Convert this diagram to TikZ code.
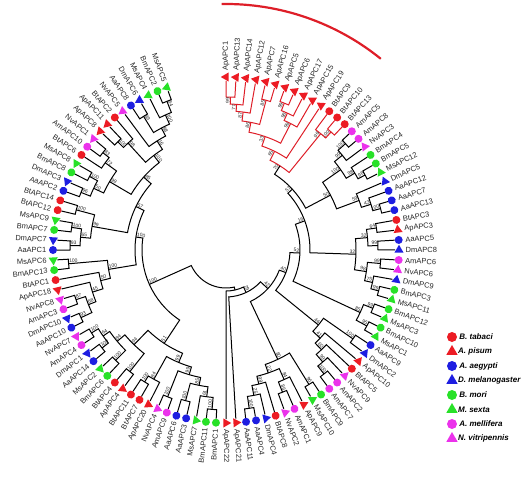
\documentclass[tikz,border=0pt]{standalone}
\usepackage{fontspec}
\setmainfont{Liberation Sans}
\usetikzlibrary{shapes.geometric,positioning}
\definecolor{MkRed}{RGB}{236,28,36}
\definecolor{MkBlue}{RGB}{30,30,225}
\definecolor{MkGreen}{RGB}{40,225,40}
\definecolor{MkPink}{RGB}{235,50,235}
\definecolor{CladeRed}{RGB}{222,30,40}
\tikzset{
  twig/.style={line width=1pt},
  mkdot/.style={circle,inner sep=0pt,minimum size=8pt},
  mktri/.style={regular polygon,regular polygon sides=3,inner sep=0pt,minimum size=10.5pt},
  keydot/.style={circle,inner sep=0pt,minimum size=10pt},
  keytri/.style={regular polygon,regular polygon sides=3,inner sep=0pt,minimum size=13pt},
  leaflabel/.style={font=\fontsize{7.5}{8}\selectfont,inner sep=0.5pt,text=black!85},
  boot/.style={font=\fontsize{5}{5}\selectfont,inner sep=0.6pt,text=black!85},
  keylabel/.style={font=\fontsize{8}{9}\selectfont\bfseries\itshape,inner sep=0pt},
}
\newcommand{\tipr}{169}
\newcommand{\leafstep}{3.3333}
% a tip: index, name, marker, colour
\newcommand{\leaf}[4]{%
  \pgfmathsetmacro\la{90-(#1-1)*\leafstep}%
  \expandafter\xdef\csname ang@#1\endcsname{\la}%
  \expandafter\xdef\csname rad@#1\endcsname{\tipr}%
  \pgfmathsetmacro\lrot{ifthenelse(\la>-90,\la,\la+180)}%
  \pgfmathtruncatemacro\lside{ifthenelse(\la>-90,1,0)}%
  \ifnum\lside=1 \def\lanc{west}\else\def\lanc{east}\fi
  \node[mk#3,fill=#4,rotate=\la] (m#1) at (\la:173pt) {};%
  \node[leaflabel,rotate=\lrot,anchor=\lanc] (l#1) at (\la:179pt) {#2};%
}
% an inner node: colour, name, radius, child, child, bootstrap
\newcommand{\clade}[6][black]{%
  \edef\angA{\csname ang@#4\endcsname}\edef\radA{\csname rad@#4\endcsname}%
  \edef\angB{\csname ang@#5\endcsname}\edef\radB{\csname rad@#5\endcsname}%
  \pgfmathsetmacro\cmid{(\angA+\angB)/2}%
  \draw[twig,#1] (\angA:\radA pt) -- (\angA:#3pt)
    arc[start angle=\angA,end angle=\angB,radius=#3pt] -- (\angB:\radB pt);%
  \expandafter\xdef\csname ang@#2\endcsname{\cmid}%
  \expandafter\xdef\csname rad@#2\endcsname{#3}%
  \pgfmathtruncatemacro\lside{ifthenelse(\cmid>-90,1,0)}%
  \ifnum\lside=1
    \node[boot,rotate=\cmid,anchor=south east] (b#2) at (\cmid:#3pt) {#6};%
  \else
    \pgfmathsetmacro\brot{\cmid+180}%
    \node[boot,rotate=\brot,anchor=south west] (b#2) at (\cmid:#3pt) {#6};%
  \fi
}

\begin{document}
\begin{tikzpicture}
  \useasboundingbox (-226pt,-229pt) rectangle (298pt,250pt);
  % tips, clockwise from the top
  \foreach \t/\s/\c [count=\i] in {
    ApAPC1/tri/MkRed, ApAPC13/tri/MkRed, ApAPC14/tri/MkRed, ApAPC12/tri/MkRed,
    ApAPC7/tri/MkRed, ApAPC16/tri/MkRed, ApAPC5/tri/MkRed, ApAPC6/tri/MkRed,
    ApAPC17/tri/MkRed, ApAPC15/tri/MkRed, ApAPC19/tri/MkRed, BtAPC9/dot/MkRed,
    BtAPC10/dot/MkRed, BtAPC13/dot/MkRed, AmAPC5/dot/MkPink, AmAPC8/dot/MkPink,
    NvAPC3/tri/MkPink, BmAPC4/dot/MkGreen, BmAPC5/dot/MkGreen, MsAPC12/tri/MkGreen,
    DmAPC5/tri/MkBlue, AaAPC12/dot/MkBlue, AaAPC7/dot/MkBlue, AaAPC13/dot/MkBlue,
    BtAPC3/dot/MkRed, ApAPC3/tri/MkRed, AaAPC5/dot/MkBlue, DmAPC8/tri/MkBlue,
    AmAPC6/dot/MkPink, NvAPC6/tri/MkPink, DmAPC9/tri/MkBlue, BmAPC3/dot/MkGreen,
    MsAPC11/tri/MkGreen, BmAPC12/dot/MkGreen, MsAPC3/tri/MkGreen, BmAPC10/dot/MkGreen,
    MsAPC1/tri/MkGreen, AaAPC9/dot/MkBlue, DmAPC2/tri/MkBlue, ApAPC10/tri/MkRed,
    BtAPC5/dot/MkRed, NvAPC9/tri/MkPink, AmAPC2/dot/MkPink, AmAPC7/dot/MkPink,
    BmAPC9/dot/MkGreen, MsAPC10/tri/MkGreen, ApAPC9/tri/MkRed, AmAPC1/dot/MkPink,
    NvAPC2/tri/MkPink, BtAPC8/dot/MkRed, DmAPC4/tri/MkBlue, AaAPC4/dot/MkBlue,
    AaAPC11/dot/MkBlue, ApAPC21/tri/MkRed, ApAPC22/tri/MkRed, BmAPC1/dot/MkGreen,
    BmAPC11/dot/MkGreen, MsAPC7/tri/MkGreen, AaAPC3/dot/MkBlue, AaAPC6/dot/MkBlue,
    AmAPC9/dot/MkPink, NvAPC4/tri/MkPink, ApAPC20/tri/MkRed, BtAPC7/dot/MkRed,
    BtAPC11/dot/MkRed, ApAPC4/tri/MkRed, BtAPC4/dot/MkRed, BmAPC6/dot/MkGreen,
    MsAPC2/tri/MkGreen, AaAPC14/dot/MkBlue, DmAPC1/tri/MkBlue, AmAPC4/dot/MkPink,
    NvAPC7/tri/MkPink, AaAPC10/dot/MkBlue, DmAPC10/tri/MkBlue, AmAPC3/dot/MkPink,
    NvAPC8/tri/MkPink, ApAPC18/tri/MkRed, BtAPC1/dot/MkRed, BmAPC13/dot/MkGreen,
    MsAPC6/tri/MkGreen, AaAPC1/dot/MkBlue, DmAPC7/tri/MkBlue, BmAPC7/dot/MkGreen,
    MsAPC9/tri/MkGreen, BtAPC12/dot/MkRed, BtAPC14/dot/MkRed, AaAPC2/dot/MkBlue,
    DmAPC3/tri/MkBlue, BmAPC8/dot/MkGreen, MsAPC8/tri/MkGreen, BtAPC6/dot/MkRed,
    AmAPC10/dot/MkPink, NvAPC1/tri/MkPink, ApAPC8/tri/MkRed, ApAPC11/tri/MkRed,
    BtAPC2/dot/MkRed, NvAPC5/tri/MkPink, AaAPC8/dot/MkBlue, DmAPC6/tri/MkBlue,
    MsAPC4/tri/MkGreen, BmAPC2/dot/MkGreen, MsAPC5/tri/MkGreen}
    {\leaf{\i}{\t}{\s}{\c}}

  % red clade
  \clade[CladeRed]{n1}{153}{1}{2}{99}
  \clade[CladeRed]{n2}{146}{n1}{3}{77}
  \clade[CladeRed]{n3}{139}{n2}{4}{87}
  \clade[CladeRed]{n4}{155}{5}{6}{85}
  \clade[CladeRed]{n5}{130}{n3}{n4}{86}
  \clade[CladeRed]{n6}{158}{7}{8}{99}
  \clade[CladeRed]{n7}{150}{n6}{9}{98}
  \clade[CladeRed]{n8}{142}{n7}{10}{99}
  \clade[CladeRed]{n9}{120}{n5}{n8}{33}
  \clade[CladeRed]{n10}{158}{13}{14}{100}
  \clade[CladeRed]{n11}{150}{12}{n10}{96}
  \clade[CladeRed]{n12}{110}{n9}{11}{65}
  \clade[CladeRed]{n13}{100}{n12}{n11}{70}
  % right side
  \clade{q1}{160}{15}{16}{100}
  \clade{q2}{150}{q1}{17}{99}
  \clade{q3}{158}{19}{20}{96}
  \clade{q4}{150}{18}{q3}{98}
  \clade{q5}{140}{q2}{q4}{100}
  \clade{q6}{160}{23}{24}{100}
  \clade{q7}{152}{22}{q6}{43}
  \clade{q8}{142}{21}{q7}{59}
  \clade{q9}{118}{q5}{q8}{50}
  \clade{b57}{90}{n13}{q9}{57}
  \clade{c1}{152}{25}{26}{64}
  \clade{c2}{152}{27}{28}{99}
  \clade{c3}{142}{c1}{c2}{32}
  \clade{c4}{155}{29}{30}{99}
  \clade{c5}{158}{32}{33}{99}
  \clade{c6}{150}{31}{c5}{75}
  \clade{c7}{142}{c4}{c6}{98}
  \clade{c8}{130}{c3}{c7}{32}
  \clade{b16}{84}{b57}{c8}{16}
  \clade{d1}{158}{34}{35}{99}
  \clade{d2}{160}{36}{37}{95}
  \clade{d3}{148}{d1}{d2}{85}
  \clade{b52}{74}{b16}{d3}{52}
  \clade{p1}{155}{38}{39}{100}
  \clade{e1}{158}{43}{44}{100}
  \clade{e2}{148}{42}{e1}{99}
  \clade{e3}{138}{41}{e2}{60}
  \clade{e4}{129}{40}{e3}{41}
  \clade{e5}{119}{p1}{e4}{46}
  \clade{b40}{64}{b52}{e5}{40}
  \clade{t5}{158}{45}{46}{96}
  \clade{f1}{153}{48}{49}{86}
  \clade{f2}{142}{47}{f1}{84}
  \clade{f3}{160}{52}{53}{100}
  \clade{f4}{148}{51}{f3}{25}
  \clade{f5}{138}{50}{f4}{99}
  \clade{f6}{130}{f2}{f5}{22}
  \clade{g1}{121}{t5}{f6}{80}
  \clade{b42}{57}{b40}{g1}{42}
  \clade{b29}{47}{b42}{54}{29}
  \clade{bz}{41}{b29}{55}{}
  % left side
  \clade{h1}{160}{56}{57}{100}
  \clade{h2}{148}{58}{h1}{61}
  \clade{h3}{156}{59}{60}{100}
  \clade{h4}{138}{h3}{h2}{85}
  \clade{h5}{158}{61}{62}{100}
  \clade{h6}{130}{h4}{h5}{99}
  \clade{i1}{155}{64}{65}{100}
  \clade{i2}{148}{63}{i1}{84}
  \clade{i3}{122}{h6}{i2}{99}
  \clade{k1}{158}{70}{71}{100}
  \clade{k2}{158}{72}{73}{100}
  \clade{k3}{150}{k1}{k2}{64}
  \clade{j1}{156}{68}{69}{100}
  \clade{j2}{142}{k3}{j1}{84}
  \clade{j3}{155}{66}{67}{100}
  \clade{j4}{132}{j2}{j3}{94}
  \clade{ll}{112}{i3}{j4}{51}
  \clade{k4}{160}{74}{75}{93}
  \clade{k5}{158}{76}{77}{87}
  \clade{k6}{148}{k4}{k5}{68}
  \clade{k7}{140}{k6}{78}{45}
  \clade{u2}{129}{k7}{79}{50}
  \clade{u1}{158}{80}{81}{100}
  \clade{u3}{119}{u2}{u1}{100}
  \clade{v1}{156}{82}{83}{93}
  \clade{v2}{156}{84}{85}{100}
  \clade{v3}{146}{v1}{v2}{65}
  \clade{v4}{155}{86}{87}{100}
  \clade{v5}{136}{v3}{v4}{99}
  \clade{x2}{156}{88}{89}{96}
  \clade{x1}{155}{90}{91}{100}
  \clade{x3}{146}{x2}{x1}{50}
  \clade{w8}{157}{93}{94}{83}
  \clade{w9}{149}{92}{w8}{72}
  \clade{x4}{135}{x3}{w9}{99}
  \clade{w6}{153}{95}{96}{100}
  \clade{w7}{145}{w6}{97}{98}
  \clade{w3}{157}{99}{100}{89}
  \clade{w1}{160}{102}{103}{84}
  \clade{w2}{148}{101}{w1}{100}
  \clade{w4}{138}{w3}{w2}{98}
  \clade{w5}{129}{98}{w4}{16}
  \clade{y1}{119}{w7}{w5}{100}
  \clade{y2}{110}{x4}{y1}{85}
  \clade{y3}{100}{y2}{v5}{57}
  \clade{y4}{91}{y3}{u3}{100}
  \clade{y5}{84}{y4}{ll}{100}
  \clade{root}{38}{y5}{bz}{}

  % mark over the red clade
  \draw[CladeRed,line width=2.2pt] (91:246pt) arc[start angle=91,end angle=51,radius=246pt];

  % key
  \foreach \t/\s/\c [count=\k from 0] in {B. tabaci/dot/MkRed, A. pisum/tri/MkRed,
      A. aegypti/dot/MkBlue, D. melanogaster/tri/MkBlue, B. mori/dot/MkGreen,
      M. sexta/tri/MkGreen, A. mellifera/dot/MkPink, N. vitripennis/tri/MkPink}
  {
    \node[key\s,fill=\c] (k\k) at (226pt,{-87pt-14.5pt*\k}) {};
    \node[keylabel,right=2pt of k\k] (kt\k) {\t};
  }
\end{tikzpicture}
\end{document}
